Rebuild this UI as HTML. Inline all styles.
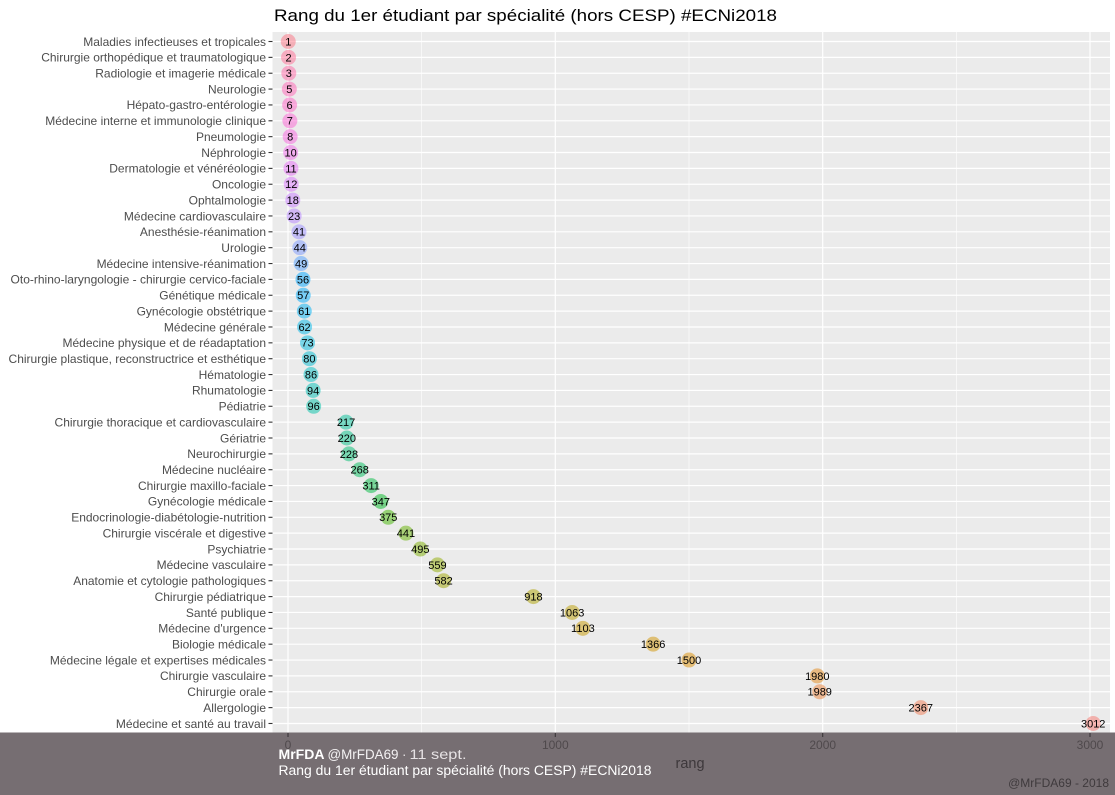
<!DOCTYPE html>
<html><head><meta charset="utf-8"><style>
html,body{margin:0;padding:0;background:#fff;}
svg{display:block;font-family:"Liberation Sans",Arial,sans-serif;}
</style></head><body>
<svg width="1115" height="795" viewBox="0 0 1115 795" xmlns="http://www.w3.org/2000/svg">
<rect x="0" y="0" width="1115" height="795" fill="#fff"/>
<text x="274" y="21" font-size="16.5" fill="#000" textLength="503" lengthAdjust="spacingAndGlyphs">Rang du 1er étudiant par spécialité (hors CESP) #ECNi2018</text>
<rect x="272.5" y="32" width="837.5" height="702" fill="#EBEBEB"/>
<g stroke="#fff" stroke-width="0.6">
<line x1="421.7" y1="32" x2="421.7" y2="734"/><line x1="689" y1="32" x2="689" y2="734"/><line x1="956.3" y1="32" x2="956.3" y2="734"/>
</g>
<g stroke="#fff" stroke-width="1.2">
<line x1="288" y1="32" x2="288" y2="734"/><line x1="555.3" y1="32" x2="555.3" y2="734"/><line x1="822.7" y1="32" x2="822.7" y2="734"/><line x1="1090" y1="32" x2="1090" y2="734"/>
<line x1="272.5" x2="1110" y1="41.5" y2="41.5"/><line x1="272.5" x2="1110" y1="57.36" y2="57.36"/><line x1="272.5" x2="1110" y1="73.22" y2="73.22"/><line x1="272.5" x2="1110" y1="89.08" y2="89.08"/><line x1="272.5" x2="1110" y1="104.94" y2="104.94"/><line x1="272.5" x2="1110" y1="120.8" y2="120.8"/><line x1="272.5" x2="1110" y1="136.66" y2="136.66"/><line x1="272.5" x2="1110" y1="152.52" y2="152.52"/><line x1="272.5" x2="1110" y1="168.38" y2="168.38"/><line x1="272.5" x2="1110" y1="184.24" y2="184.24"/><line x1="272.5" x2="1110" y1="200.1" y2="200.1"/><line x1="272.5" x2="1110" y1="215.96" y2="215.96"/><line x1="272.5" x2="1110" y1="231.82" y2="231.82"/><line x1="272.5" x2="1110" y1="247.68" y2="247.68"/><line x1="272.5" x2="1110" y1="263.54" y2="263.54"/><line x1="272.5" x2="1110" y1="279.4" y2="279.4"/><line x1="272.5" x2="1110" y1="295.26" y2="295.26"/><line x1="272.5" x2="1110" y1="311.12" y2="311.12"/><line x1="272.5" x2="1110" y1="326.98" y2="326.98"/><line x1="272.5" x2="1110" y1="342.84" y2="342.84"/><line x1="272.5" x2="1110" y1="358.7" y2="358.7"/><line x1="272.5" x2="1110" y1="374.56" y2="374.56"/><line x1="272.5" x2="1110" y1="390.42" y2="390.42"/><line x1="272.5" x2="1110" y1="406.28" y2="406.28"/><line x1="272.5" x2="1110" y1="422.14" y2="422.14"/><line x1="272.5" x2="1110" y1="438" y2="438"/><line x1="272.5" x2="1110" y1="453.86" y2="453.86"/><line x1="272.5" x2="1110" y1="469.72" y2="469.72"/><line x1="272.5" x2="1110" y1="485.58" y2="485.58"/><line x1="272.5" x2="1110" y1="501.44" y2="501.44"/><line x1="272.5" x2="1110" y1="517.3" y2="517.3"/><line x1="272.5" x2="1110" y1="533.16" y2="533.16"/><line x1="272.5" x2="1110" y1="549.02" y2="549.02"/><line x1="272.5" x2="1110" y1="564.88" y2="564.88"/><line x1="272.5" x2="1110" y1="580.74" y2="580.74"/><line x1="272.5" x2="1110" y1="596.6" y2="596.6"/><line x1="272.5" x2="1110" y1="612.46" y2="612.46"/><line x1="272.5" x2="1110" y1="628.32" y2="628.32"/><line x1="272.5" x2="1110" y1="644.18" y2="644.18"/><line x1="272.5" x2="1110" y1="660.04" y2="660.04"/><line x1="272.5" x2="1110" y1="675.9" y2="675.9"/><line x1="272.5" x2="1110" y1="691.76" y2="691.76"/><line x1="272.5" x2="1110" y1="707.62" y2="707.62"/><line x1="272.5" x2="1110" y1="723.48" y2="723.48"/>
</g>
<g stroke="#333" stroke-width="1.1">
<line x1="268.5" x2="272.5" y1="41.5" y2="41.5"/><line x1="268.5" x2="272.5" y1="57.36" y2="57.36"/><line x1="268.5" x2="272.5" y1="73.22" y2="73.22"/><line x1="268.5" x2="272.5" y1="89.08" y2="89.08"/><line x1="268.5" x2="272.5" y1="104.94" y2="104.94"/><line x1="268.5" x2="272.5" y1="120.8" y2="120.8"/><line x1="268.5" x2="272.5" y1="136.66" y2="136.66"/><line x1="268.5" x2="272.5" y1="152.52" y2="152.52"/><line x1="268.5" x2="272.5" y1="168.38" y2="168.38"/><line x1="268.5" x2="272.5" y1="184.24" y2="184.24"/><line x1="268.5" x2="272.5" y1="200.1" y2="200.1"/><line x1="268.5" x2="272.5" y1="215.96" y2="215.96"/><line x1="268.5" x2="272.5" y1="231.82" y2="231.82"/><line x1="268.5" x2="272.5" y1="247.68" y2="247.68"/><line x1="268.5" x2="272.5" y1="263.54" y2="263.54"/><line x1="268.5" x2="272.5" y1="279.4" y2="279.4"/><line x1="268.5" x2="272.5" y1="295.26" y2="295.26"/><line x1="268.5" x2="272.5" y1="311.12" y2="311.12"/><line x1="268.5" x2="272.5" y1="326.98" y2="326.98"/><line x1="268.5" x2="272.5" y1="342.84" y2="342.84"/><line x1="268.5" x2="272.5" y1="358.7" y2="358.7"/><line x1="268.5" x2="272.5" y1="374.56" y2="374.56"/><line x1="268.5" x2="272.5" y1="390.42" y2="390.42"/><line x1="268.5" x2="272.5" y1="406.28" y2="406.28"/><line x1="268.5" x2="272.5" y1="422.14" y2="422.14"/><line x1="268.5" x2="272.5" y1="438" y2="438"/><line x1="268.5" x2="272.5" y1="453.86" y2="453.86"/><line x1="268.5" x2="272.5" y1="469.72" y2="469.72"/><line x1="268.5" x2="272.5" y1="485.58" y2="485.58"/><line x1="268.5" x2="272.5" y1="501.44" y2="501.44"/><line x1="268.5" x2="272.5" y1="517.3" y2="517.3"/><line x1="268.5" x2="272.5" y1="533.16" y2="533.16"/><line x1="268.5" x2="272.5" y1="549.02" y2="549.02"/><line x1="268.5" x2="272.5" y1="564.88" y2="564.88"/><line x1="268.5" x2="272.5" y1="580.74" y2="580.74"/><line x1="268.5" x2="272.5" y1="596.6" y2="596.6"/><line x1="268.5" x2="272.5" y1="612.46" y2="612.46"/><line x1="268.5" x2="272.5" y1="628.32" y2="628.32"/><line x1="268.5" x2="272.5" y1="644.18" y2="644.18"/><line x1="268.5" x2="272.5" y1="660.04" y2="660.04"/><line x1="268.5" x2="272.5" y1="675.9" y2="675.9"/><line x1="268.5" x2="272.5" y1="691.76" y2="691.76"/><line x1="268.5" x2="272.5" y1="707.62" y2="707.62"/><line x1="268.5" x2="272.5" y1="723.48" y2="723.48"/>
</g>
<g font-size="12" fill="#4D4D4D" text-anchor="end">
<text x="266" y="45.8">Maladies infectieuses et tropicales</text>
<text x="266" y="61.66">Chirurgie orthopédique et traumatologique</text>
<text x="266" y="77.52">Radiologie et imagerie médicale</text>
<text x="266" y="93.38">Neurologie</text>
<text x="266" y="109.24">Hépato-gastro-entérologie</text>
<text x="266" y="125.1">Médecine interne et immunologie clinique</text>
<text x="266" y="140.96">Pneumologie</text>
<text x="266" y="156.82">Néphrologie</text>
<text x="266" y="172.68">Dermatologie et vénéréologie</text>
<text x="266" y="188.54">Oncologie</text>
<text x="266" y="204.4">Ophtalmologie</text>
<text x="266" y="220.26">Médecine cardiovasculaire</text>
<text x="266" y="236.12">Anesthésie-réanimation</text>
<text x="266" y="251.98">Urologie</text>
<text x="266" y="267.84">Médecine intensive-réanimation</text>
<text x="266" y="283.7">Oto-rhino-laryngologie - chirurgie cervico-faciale</text>
<text x="266" y="299.56">Génétique médicale</text>
<text x="266" y="315.42">Gynécologie obstétrique</text>
<text x="266" y="331.28">Médecine générale</text>
<text x="266" y="347.14">Médecine physique et de réadaptation</text>
<text x="266" y="363">Chirurgie plastique, reconstructrice et esthétique</text>
<text x="266" y="378.86">Hématologie</text>
<text x="266" y="394.72">Rhumatologie</text>
<text x="266" y="410.58">Pédiatrie</text>
<text x="266" y="426.44">Chirurgie thoracique et cardiovasculaire</text>
<text x="266" y="442.3">Gériatrie</text>
<text x="266" y="458.16">Neurochirurgie</text>
<text x="266" y="474.02">Médecine nucléaire</text>
<text x="266" y="489.88">Chirurgie maxillo-faciale</text>
<text x="266" y="505.74">Gynécologie médicale</text>
<text x="266" y="521.6">Endocrinologie-diabétologie-nutrition</text>
<text x="266" y="537.46">Chirurgie viscérale et digestive</text>
<text x="266" y="553.32">Psychiatrie</text>
<text x="266" y="569.18">Médecine vasculaire</text>
<text x="266" y="585.04">Anatomie et cytologie pathologiques</text>
<text x="266" y="600.9">Chirurgie pédiatrique</text>
<text x="266" y="616.76">Santé publique</text>
<text x="266" y="632.62">Médecine d'urgence</text>
<text x="266" y="648.48">Biologie médicale</text>
<text x="266" y="664.34">Médecine légale et expertises médicales</text>
<text x="266" y="680.2">Chirurgie vasculaire</text>
<text x="266" y="696.06">Chirurgie orale</text>
<text x="266" y="711.92">Allergologie</text>
<text x="266" y="727.78">Médecine et santé au travail</text>
</g>
<g fill-opacity="0.5">
<circle cx="288.27" cy="41.5" r="7.5" fill="rgb(252,113,129)"/>
<circle cx="288.53" cy="57.36" r="7.5" fill="rgb(255,107,148)"/>
<circle cx="288.8" cy="73.22" r="7.5" fill="rgb(255,103,165)"/>
<circle cx="289.34" cy="89.08" r="7.5" fill="rgb(255,99,181)"/>
<circle cx="289.6" cy="104.94" r="7.5" fill="rgb(255,97,197)"/>
<circle cx="289.87" cy="120.8" r="7.5" fill="rgb(252,97,211)"/>
<circle cx="290.14" cy="136.66" r="7.5" fill="rgb(247,99,223)"/>
<circle cx="290.67" cy="152.52" r="7.5" fill="rgb(240,103,234)"/>
<circle cx="290.94" cy="168.38" r="7.5" fill="rgb(229,108,245)"/>
<circle cx="291.21" cy="184.24" r="7.5" fill="rgb(215,116,252)"/>
<circle cx="292.81" cy="200.1" r="7.5" fill="rgb(199,124,255)"/>
<circle cx="294.15" cy="215.96" r="7.5" fill="rgb(181,132,255)"/>
<circle cx="298.96" cy="231.82" r="7.5" fill="rgb(154,142,255)"/>
<circle cx="299.76" cy="247.68" r="7.5" fill="rgb(121,151,255)"/>
<circle cx="301.1" cy="263.54" r="7.5" fill="rgb(80,159,255)"/>
<circle cx="302.97" cy="279.4" r="7.5" fill="rgb(0,166,255)"/>
<circle cx="303.24" cy="295.26" r="7.5" fill="rgb(0,172,251)"/>
<circle cx="304.31" cy="311.12" r="7.5" fill="rgb(0,178,243)"/>
<circle cx="304.57" cy="326.98" r="7.5" fill="rgb(0,183,233)"/>
<circle cx="307.52" cy="342.84" r="7.5" fill="rgb(0,186,222)"/>
<circle cx="309.39" cy="358.7" r="7.5" fill="rgb(0,188,209)"/>
<circle cx="310.99" cy="374.56" r="7.5" fill="rgb(0,191,196)"/>
<circle cx="313.13" cy="390.42" r="7.5" fill="rgb(0,192,182)"/>
<circle cx="313.66" cy="406.28" r="7.5" fill="rgb(0,193,168)"/>
<circle cx="346.01" cy="422.14" r="7.5" fill="rgb(0,192,151)"/>
<circle cx="346.81" cy="438" r="7.5" fill="rgb(0,192,133)"/>
<circle cx="348.95" cy="453.86" r="7.5" fill="rgb(0,190,113)"/>
<circle cx="359.64" cy="469.72" r="7.5" fill="rgb(0,189,92)"/>
<circle cx="371.14" cy="485.58" r="7.5" fill="rgb(0,187,65)"/>
<circle cx="380.76" cy="501.44" r="7.5" fill="rgb(0,184,33)"/>
<circle cx="388.25" cy="517.3" r="7.5" fill="rgb(66,181,0)"/>
<circle cx="405.89" cy="533.16" r="7.5" fill="rgb(99,178,0)"/>
<circle cx="420.33" cy="549.02" r="7.5" fill="rgb(124,174,0)"/>
<circle cx="437.44" cy="564.88" r="7.5" fill="rgb(143,171,0)"/>
<circle cx="443.59" cy="580.74" r="7.5" fill="rgb(160,166,0)"/>
<circle cx="533.41" cy="596.6" r="7.5" fill="rgb(173,162,0)"/>
<circle cx="572.17" cy="612.46" r="7.5" fill="rgb(187,157,0)"/>
<circle cx="582.87" cy="628.32" r="7.5" fill="rgb(199,153,0)"/>
<circle cx="653.17" cy="644.18" r="7.5" fill="rgb(210,147,0)"/>
<circle cx="689" cy="660.04" r="7.5" fill="rgb(219,142,0)"/>
<circle cx="817.31" cy="675.9" r="7.5" fill="rgb(227,136,23)"/>
<circle cx="819.71" cy="691.76" r="7.5" fill="rgb(236,130,56)"/>
<circle cx="920.77" cy="707.62" r="7.5" fill="rgb(242,124,83)"/>
<circle cx="1093.2" cy="723.48" r="7.5" fill="rgb(248,118,109)"/>
</g>
<g font-size="11" fill="#000" text-anchor="middle">
<text x="288.27" y="45.4">1</text>
<text x="288.53" y="61.26">2</text>
<text x="288.8" y="77.12">3</text>
<text x="289.34" y="92.98">5</text>
<text x="289.6" y="108.84">6</text>
<text x="289.87" y="124.7">7</text>
<text x="290.14" y="140.56">8</text>
<text x="290.67" y="156.42">10</text>
<text x="290.94" y="172.28">11</text>
<text x="291.21" y="188.14">12</text>
<text x="292.81" y="204">18</text>
<text x="294.15" y="219.86">23</text>
<text x="298.96" y="235.72">41</text>
<text x="299.76" y="251.58">44</text>
<text x="301.1" y="267.44">49</text>
<text x="302.97" y="283.3">56</text>
<text x="303.24" y="299.16">57</text>
<text x="304.31" y="315.02">61</text>
<text x="304.57" y="330.88">62</text>
<text x="307.52" y="346.74">73</text>
<text x="309.39" y="362.6">80</text>
<text x="310.99" y="378.46">86</text>
<text x="313.13" y="394.32">94</text>
<text x="313.66" y="410.18">96</text>
<text x="346.01" y="426.04">217</text>
<text x="346.81" y="441.9">220</text>
<text x="348.95" y="457.76">228</text>
<text x="359.64" y="473.62">268</text>
<text x="371.14" y="489.48">311</text>
<text x="380.76" y="505.34">347</text>
<text x="388.25" y="521.2">375</text>
<text x="405.89" y="537.06">441</text>
<text x="420.33" y="552.92">495</text>
<text x="437.44" y="568.78">559</text>
<text x="443.59" y="584.64">582</text>
<text x="533.41" y="600.5">918</text>
<text x="572.17" y="616.36">1063</text>
<text x="582.87" y="632.22">1103</text>
<text x="653.17" y="648.08">1366</text>
<text x="689" y="663.94">1500</text>
<text x="817.31" y="679.8">1980</text>
<text x="819.71" y="695.66">1989</text>
<text x="920.77" y="711.52">2367</text>
<text x="1093.2" y="727.38">3012</text>
</g>
<rect x="0" y="732.5" width="1115" height="62.5" fill="#766e72"/>
<g stroke="#3a3538" stroke-width="1.1">
<line x1="288" x2="288" y1="733" y2="737"/><line x1="555.3" x2="555.3" y1="733" y2="737"/><line x1="822.7" x2="822.7" y1="733" y2="737"/><line x1="1090" x2="1090" y1="733" y2="737"/>
</g>
<g font-size="12" fill="#4f494c" text-anchor="middle">
<text x="288" y="749">0</text>
<text x="555.3" y="749">1000</text>
<text x="822.7" y="749">2000</text>
<text x="1090" y="749">3000</text>
</g>
<text x="690" y="768" font-size="14.5" fill="#3d383b" text-anchor="middle">rang</text>
<text x="1109" y="787" font-size="12" fill="#3f3a3d" text-anchor="end">@MrFDA69 - 2018</text>
<text x="278.5" y="759" font-size="14" font-weight="bold" fill="#fff" textLength="46" lengthAdjust="spacingAndGlyphs">MrFDA</text>
<text x="327.5" y="759" font-size="13.5" fill="#f4f2f3" textLength="71" lengthAdjust="spacingAndGlyphs">@MrFDA69</text>
<text x="402" y="759" font-size="13.5" fill="#e6e2e4">·</text>
<text x="409.5" y="759" font-size="13.5" fill="#e6e2e4" textLength="57" lengthAdjust="spacingAndGlyphs">11 sept.</text>
<text x="278.5" y="775" font-size="13.5" fill="#fff" textLength="373" lengthAdjust="spacingAndGlyphs">Rang du 1er étudiant par spécialité (hors CESP) #ECNi2018</text>
</svg>
</body></html>
